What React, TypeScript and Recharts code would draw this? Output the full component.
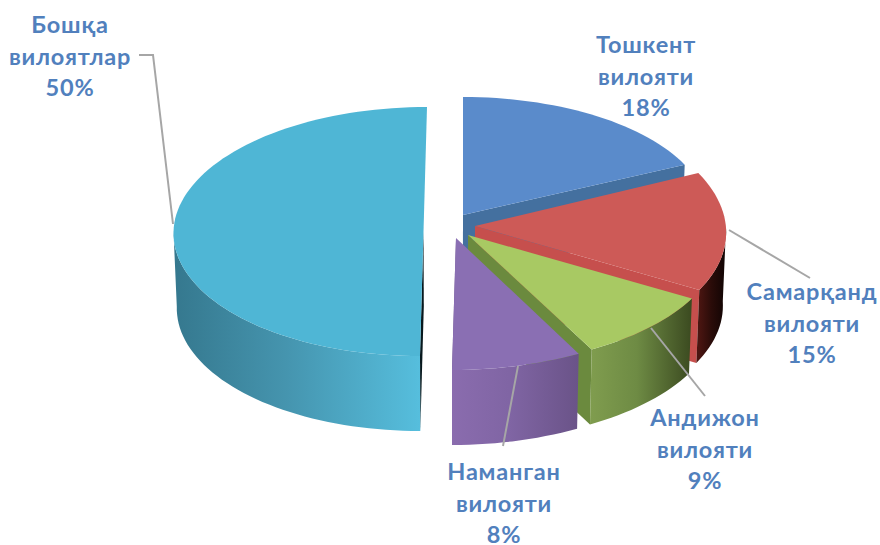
import React from 'react';
import { PieChart, Pie } from 'recharts';

const categories = ['Тошкент вилояти', 'Самарқанд вилояти', 'Андижон вилояти', 'Наманган вилояти', 'Бошқа вилоятлар'];
const shares = [18, 15, 9, 8, 50];
const tableData = categories.map((name, i) => ({ name, value: shares[i] }));

const CX = 448;
const CY = 230;
const R = 250;
const FONT = 'Lato, Carlito, "Open Sans", sans-serif';

// Projection of each exploded slice onto the tilted 3D view
const views = [
  { sx: 15, sy: -15, a: 0.98, c: 0.472, b: 0, d: 0, depth: 62 },
  { sx: 27, sy: -4, a: 1.004, c: 0.516, b: -0.036, d: 0.008, depth: 73 },
  { sx: 20, sy: 5, a: 1.02, c: 0.52, b: -0.004, d: 0.004, depth: 75 },
  { sx: 8, sy: 8, a: 1.048, c: 0.528, b: 0.016, d: 0, depth: 75 },
  { sx: -24.5, sy: 1.5, a: 1.0, c: 0.498, b: 0.014, d: 0, depth: 75 },
];
const TAPER = 0.00016;

const skins = [
  { top: '#5a8bcb', face: '#44709f', rim: ['#44709f', '#44709f', '#44709f'] },
  { top: '#cd5a57', face: '#c64f4d', rim: ['#4a1511', '#2a0c09', '#0f0403'] },
  { top: '#a8c963', face: '#6b8a3e', rim: ['#7f9c4e', '#6e8b44', '#3b4a20'] },
  { top: '#8a6fb3', face: '#6a5388', rim: ['#8a6cae', '#8065a4', '#6a5388'] },
  { top: '#4fb6d5', face: '#08191e', rim: ['#35788e', '#4594ae', '#56bedd'] },
];

const labelLayout = [
  { x: 646, y: 53, line: [] as number[][] },
  { x: 812, y: 300, line: [[729, 230], [810, 278]] },
  { x: 705, y: 426, line: [[651, 328], [705, 396]] },
  { x: 504, y: 480, line: [[518, 366], [503, 446]] },
  { x: 70, y: 33, line: [[173, 224], [153, 55], [139, 55]] },
];
const LINE_GAP = 31.7;

function project(i: number, cx: number, cy: number, r: number, theta: number, drop = 0) {
  const v = views[i];
  const rad = (theta * Math.PI) / 180;
  const s = Math.sin(rad);
  const c = Math.cos(rad);
  const x = cx + v.sx + r * (v.a * s + v.b * c);
  return [x - (x - cx) * TAPER * drop, cy + v.sy + r * (-v.c * c + v.d * s) + drop];
}

const toPath = (pts: number[][]) =>
  'M' + pts.map((p) => `${p[0].toFixed(1)},${p[1].toFixed(1)}`).join('L') + 'Z';

function Slice3D(props: any) {
  const { cx, cy, outerRadius, startAngle, endAngle } = props;
  const i: number = props.index ?? categories.indexOf(props.payload?.name ?? props.name);
  const v = views[i];
  const skin = skins[i];
  const t0 = 90 - startAngle;
  const t1 = 90 - endAngle;
  const sweep = (from: number, to: number, drop: number) => {
    const steps = Math.max(8, Math.ceil((to - from) / 2));
    return Array.from({ length: steps + 1 }, (_, k) =>
      project(i, cx, cy, outerRadius, from + ((to - from) * k) / steps, drop),
    );
  };
  const apex = [cx + v.sx, cy + v.sy];
  const apexLow = [apex[0] - (apex[0] - cx) * TAPER * v.depth, apex[1] + v.depth];
  const top = sweep(t0, t1, 0);

  // Only the near half of the outer wall can be seen
  const r0 = Math.max(t0, 90);
  const r1 = Math.min(t1, 270);
  const hasRim = r1 > r0;
  const rimTop = hasRim ? sweep(r0, r1, 0) : [];
  const rimLow = hasRim ? sweep(r0, r1, v.depth) : [];

  // The cut face that turns toward the viewer
  const faceTheta = i === 4 ? t0 : t1;
  const facePoint = project(i, cx, cy, outerRadius, faceTheta, 0);
  const faceLow = project(i, cx, cy, outerRadius, faceTheta, v.depth);
  const face = [apex, facePoint, faceLow, apexLow];

  const xs = rimTop.map((p) => p[0]);
  const gid = `rim-${i}`;
  return (
    <g>
      {hasRim && (
        <defs>
          <linearGradient id={gid} gradientUnits="userSpaceOnUse" x1={Math.min(...xs)} x2={Math.max(...xs)} y1={0} y2={0}>
            <stop offset="0" stopColor={skin.rim[0]} />
            <stop offset="0.45" stopColor={skin.rim[1]} />
            <stop offset="1" stopColor={skin.rim[2]} />
          </linearGradient>
        </defs>
      )}
      <path d={toPath(face)} fill={skin.face} />
      {hasRim && <path d={toPath([...rimTop, ...[...rimLow].reverse()])} fill={`url(#${gid})`} />}
      <path d={toPath([apex, ...top])} fill={skin.top} />
    </g>
  );
}

function SliceLabel(props: any) {
  const i: number = props.index;
  const item = tableData[i];
  const layout = labelLayout[i];
  const lines = [...item.name.split(' '), `${item.value}%`];
  return (
    <g>
      {layout.line.length > 0 && (
        <polyline
          points={layout.line.map((p) => p.join(',')).join(' ')}
          fill="none"
          stroke="#a6a6a6"
          strokeWidth={2}
        />
      )}
      <text
        textAnchor="middle"
        fontFamily={FONT}
        fontWeight={700}
        fontSize={23.5}
        letterSpacing={0.8}
        fill="#5180bd"
      >
        {lines.map((t, k) => (
          <tspan key={k} x={layout.x} y={layout.y + k * LINE_GAP}>
            {t}
          </tspan>
        ))}
      </text>
    </g>
  );
}

export default function App() {
  return (
    <div style={{ position: 'absolute', left: 0, top: 0, width: 880, height: 545, background: '#fff', overflow: 'hidden' }}>
      <PieChart width={880} height={545} margin={{ top: 0, right: 0, bottom: 0, left: 0 }}>
        <Pie
          data={tableData}
          dataKey="value"
          nameKey="name"
          cx={CX}
          cy={CY}
          innerRadius={0}
          outerRadius={R}
          startAngle={90}
          endAngle={-270}
          stroke="none"
          isAnimationActive={false}
          shape={Slice3D}
          label={SliceLabel}
          labelLine={false}
        />
      </PieChart>
    </div>
  );
}
